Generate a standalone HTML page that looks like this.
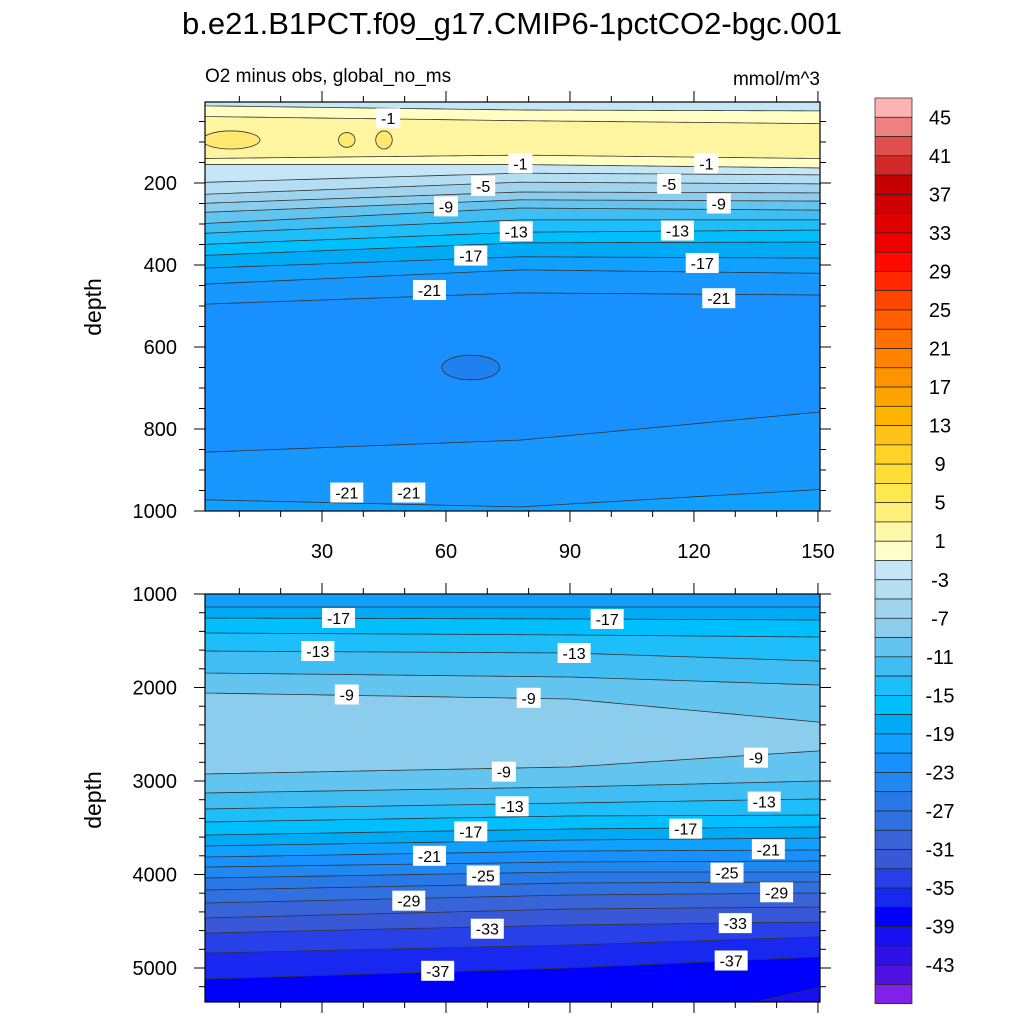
<!DOCTYPE html>
<html><head><meta charset="utf-8">
<style>
html,body{margin:0;padding:0;background:#fff;overflow:hidden;width:1024px;height:1024px;}
svg{display:block;font-family:"Liberation Sans",sans-serif;}
</style></head>
<body>
<svg id="chart" width="1024" height="1024" viewBox="0 0 1024 1024">
<text x="512" y="34" font-size="31" text-anchor="middle">b.e21.B1PCT.f09_g17.CMIP6-1pctCO2-bgc.001</text>
<text x="205" y="82" font-size="19">O2 minus obs, global_no_ms</text>
<text x="820" y="85" font-size="19" text-anchor="end">mmol/m^3</text>
<text transform="translate(101,307) rotate(-90)" font-size="23" text-anchor="middle">depth</text>
<text transform="translate(101,800) rotate(-90)" font-size="23" text-anchor="middle">depth</text>
<defs>
<clipPath id="clipTop"><rect x="205" y="102" width="615" height="409"/></clipPath>
<clipPath id="clipBot"><rect x="205" y="594" width="615" height="408"/></clipPath>
</defs>
<g id="topFill" clip-path="url(#clipTop)"></g>
<g id="botFill" clip-path="url(#clipBot)"></g>
<g id="axes"></g>
<g id="labels"></g>
<g id="cbar"></g>
</svg>
<script>
// ---- data ----
const topYears = [3, 78, 148];
const topSurfaceColor = "#C4E6F6";
const topLevels = ["-1","1","1","-1","-3","-5","-7","-9","-11","-13","-15","-17","-19","-21","-23","-23","-21"];
const topDepths = [
 [12,22,24],[38,48,55],[140,132,140],[155,155,163],[198,176,180],[227,198,202],
 [249,222,224],[271,241,244],[298,261,266],[322,290,290],[349,320,315],[376,346,344],
 [407,380,383],[446,412,420],[495,468,473],[856,827,761],[973,990,949]
];
const topFillBelow = ["#FFFFC4","#FFF5A0","#FFFFC4","#C4E6F6","#B4DEF2","#A0D4EE","#8CCCEC","#64C4F0","#40BEF4","#1EBEFA","#00BFFF","#00AAF5","#10A0FF","#1898FF","#1890FF","#1898FF","#10A0FF"];
const topIslandYears = [8, 36, 45, 66];
const topIslandDepths = [95, 95, 95, 650];
const topIslandWidths = [7, 2, 2, 7];
const topIslandHeights = [22, 18, 22, 30];
const topIslandColors = ["#FFE870","#FFE870","#FFE870","#2080F0"];

const botYears = [2, 90, 150];
const botTopColor = "#10A0FF";
const botLevels = ["-19","-17","-15","-13","-11","-9","-9","-11","-13","-15","-17","-19","-21","-23","-25","-27","-29","-31","-33","-35","-37","-39"];
const botDepths = [
 [1139,1139,1139],[1257,1267,1278],[1417,1438,1460],[1610,1631,1717],[1845,1888,1973],[2059,2123,2369],
 [2925,2850,2679],[3128,3064,3000],[3299,3235,3192],[3438,3374,3364],[3578,3513,3492],[3695,3631,3610],
 [3813,3749,3738],[3920,3866,3856],[4037,3973,3973],[4166,4091,4080],[4305,4219,4198],[4465,4369,4348],
 [4626,4540,4508],[4840,4754,4668],[5118,5000,4882],[6200,5800,5214]
];
const botFillBelow = ["#00AAF5","#00BFFF","#1EBEFA","#40BEF4","#64C4F0","#8CCCEC","#64C4F0","#40BEF4","#1EBEFA","#00BFFF","#00AAF5","#10A0FF","#1890FF","#2088F0","#2878E8","#3070E0","#3864D8","#3858D8","#2840E8","#1828F0","#0000FF","#1810F0"];

const cbarColors = ["#FFB4B4","#F08080","#E04E4E","#D22828","#C40000","#D00000","#E00000","#EE0000","#FF0A00","#FF2800","#FF4600","#FF5F00","#FF7000","#FF8200","#FF9400","#FFA300","#FFB400","#FFC218","#FFD228","#FFDE38","#FFE84E","#FFF07C","#FFF8A8","#FFFFCC",
 "#C4E6F6","#B4DEF2","#A0D4EE","#8CCCEC","#64C4F0","#40BEF4","#1EBEFA","#00BFFF","#00AAF5","#10A0FF","#1890FF","#2088F0","#2878E8","#3070E0","#3864D8","#3858D8","#2840E8","#1828F0","#0000FF","#1810F0","#3010E8","#5010E0","#8020E8"];
const cbarLabels = ["45","41","37","33","29","25","21","17","13","9","5","1","-3","-7","-11","-15","-19","-23","-27","-31","-35","-39","-43"];

const xTicks = [30,60,90,120,150];
const topYTicks = [200,400,600,800,1000];
const botYTicks = [1000,2000,3000,4000,5000];

const topLabelText = ["-1","-1","-1","-5","-5","-9","-9","-13","-13","-17","-17","-21","-21","-21","-21"];
const topLabelYear = [46,78,123,69,114,60,126,77,116,66,122,56,126,36,51];
const topLabelDepth = [42,152,152,207,202,257,250,318,316,377,395,461,481,955,955];
const botLabelText = ["-17","-17","-13","-13","-9","-9","-9","-9","-13","-13","-17","-17","-21","-21","-25","-25","-29","-29","-33","-33","-37","-37"];
const botLabelYear = [34,99,29,91,36,80,135,74,76,137,66,118,56,138,69,128,51,140,70,130,58,129];
const botLabelDepth = [1257,1267,1610,1631,2075,2110,2750,2900,3270,3220,3540,3510,3800,3730,4010,3980,4280,4190,4580,4520,5030,4920];

// ---- scales ----
const X = yr => 198 + yr * 4.133;
const YT = d => 101 + d * 0.41;
const YB = d => 594 + (d - 1000) * 0.0935;
const NS = "http://www.w3.org/2000/svg";
function mk(tag, attrs, parent){const e=document.createElementNS(NS,tag);for(const k in attrs)e.setAttribute(k,attrs[k]);parent.appendChild(e);return e;}
function interp(years, vals, yr){
  if(yr<=years[0]){const t=(yr-years[0])/(years[1]-years[0]);return vals[0]+t*(vals[1]-vals[0]);}
  for(let i=0;i<years.length-1;i++){if(yr<=years[i+1]){const t=(yr-years[i])/(years[i+1]-years[i]);return vals[i]+t*(vals[i+1]-vals[i]);}}
  const n=years.length;const t=(yr-years[n-2])/(years[n-1]-years[n-2]);return vals[n-2]+t*(vals[n-1]-vals[n-2]);
}
function linePts(years, vals, Y, y0, y1){
  const pts=[];
  for(let yr=0;yr<=152;yr+=2){
    const x=Math.min(820,Math.max(205,X(yr)));
    const y=Math.min(y1,Math.max(y0,Y(interp(years,vals,yr))));
    pts.push([x,y]);
  }
  return pts;
}

function drawPanel(g, years, depths, fills, topColor, Y, y0, y1, prefix){
  const bg = mk('rect',{x:205,y:y0,width:615,height:y1-y0,fill:topColor},g);
  
  
  for(let i=0;i<depths.length;i++){
    const a=linePts(years,depths[i],Y,y0,y1);
    const b=(i+1<depths.length)?linePts(years,depths[i+1],Y,y0,y1).reverse():[[820,y1],[205,y1]];
    const poly=mk('polygon',{points:a.concat(b).map(p=>p.join(',')).join(' '),fill:fills[i]},g);
    
    
  }
  for(let i=0;i<depths.length;i++){
    const a=linePts(years,depths[i],Y,y0,y1).filter(p=>p[1]<y1);
    if(a.length<2)continue;
    const pl=mk('polyline',{points:a.map(p=>p.join(',')).join(' '),fill:'none',stroke:'#333','stroke-width':0.8},g);
    
    
  }
}
const topG=document.getElementById('topFill');
drawPanel(topG, topYears, topDepths, topFillBelow, topSurfaceColor, YT, 102, 511, 'top');
for(let i=0;i<topIslandYears.length;i++){
  const e=mk('ellipse',{cx:X(topIslandYears[i]),cy:YT(topIslandDepths[i]),rx:topIslandWidths[i]*4.133,ry:topIslandHeights[i]*0.41,fill:topIslandColors[i],stroke:'#333','stroke-width':0.8},topG);
  
  
}
drawPanel(document.getElementById('botFill'), botYears, botDepths, botFillBelow, botTopColor, YB, 594, 1002, 'bottom');

// ---- axes ----
const ax=document.getElementById('axes');
function frame(y0,y1,name){const r=mk('rect',{x:205,y:y0,width:615,height:y1-y0,fill:'none',stroke:'#000','stroke-width':1.2},ax);}
frame(102,511,'top-plot-frame');frame(594,1002,'bottom-plot-frame');
function tick(x1,y1,x2,y2){const l=mk('line',{x1,y1,x2,y2,stroke:'#000','stroke-width':1},ax);}
for(let yr=10;yr<=150;yr+=10){
  const x=X(yr);const len=(yr%30===0)?11:6;
  tick(x,102,x,102-len);tick(x,511,x,511+len);
  tick(x,594,x,594-len);tick(x,1002,x,1002+len);
}
for(let d=50;d<=1000;d+=50){const y=YT(d);const len=(d%200===0)?11:6;tick(205,y,205-len,y);tick(820,y,820+len,y);}
for(let d=1200;d<=5300;d+=200){const y=YB(d);const len=(d%1000===0)?11:6;tick(205,y,205-len,y);tick(820,y,820+len,y);}
tick(205,594,194,594);tick(820,594,831,594);
xTicks.forEach(v=>{const t=mk('text',{x:X(v),y:558,'font-size':20,'text-anchor':'middle'},ax);t.textContent=v;});
topYTicks.forEach(v=>{const t=mk('text',{x:177,y:YT(v)+7,'font-size':20,'text-anchor':'end'},ax);t.textContent=v;});
botYTicks.forEach(v=>{const t=mk('text',{x:177,y:YB(v)+7,'font-size':20,'text-anchor':'end'},ax);t.textContent=v;});

// ---- contour labels ----
const lg=document.getElementById('labels');
function clabel(txt,x,y){
  const w=txt.length*9+6;
  const r=mk('rect',{x:x-w/2,y:y-10,width:w,height:20,fill:'#fff'},lg);
  
  const t=mk('text',{x:x,y:y+6,'font-size':16,'text-anchor':'middle'},lg);t.textContent=txt;
  
}
for(let i=0;i<topLabelText.length;i++)clabel(topLabelText[i],X(topLabelYear[i]),YT(topLabelDepth[i]));
for(let i=0;i<botLabelText.length;i++)clabel(botLabelText[i],X(botLabelYear[i]),YB(botLabelDepth[i]));

// ---- colorbar ----
const cb=document.getElementById('cbar');
const cbTop=98, cbH=19.27, cbX=875, cbW=37;
for(let i=0;i<cbarColors.length;i++){
  const r=mk('rect',{x:cbX,y:cbTop+i*cbH,width:cbW,height:cbH,fill:cbarColors[i],stroke:'#222','stroke-width':0.7},cb);
  
}
for(let i=0;i<cbarLabels.length;i++){
  const t=mk('text',{x:940,y:cbTop+(1+2*i)*cbH+7,'font-size':20,'text-anchor':'middle'},cb);t.textContent=cbarLabels[i];
  
}
</script>
</body></html>
